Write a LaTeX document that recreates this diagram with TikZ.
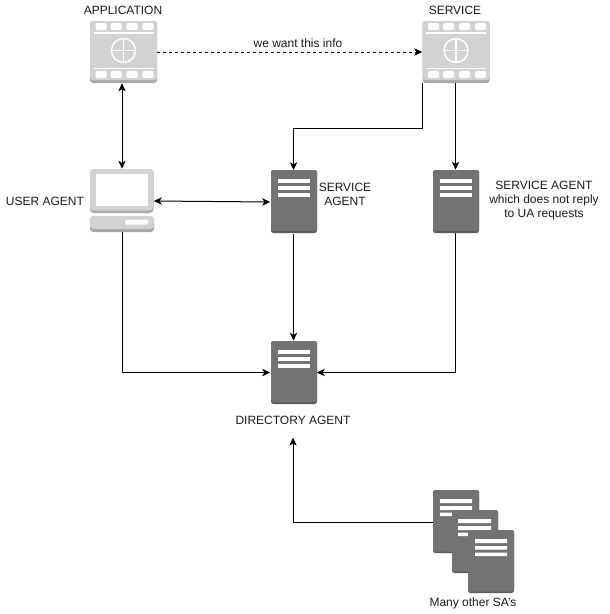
\documentclass[tikz,border=0pt]{standalone}
\usepackage{fontspec}
\setmainfont{Liberation Sans}
\usetikzlibrary{arrows.meta}
\definecolor{lightic}{HTML}{D2D2D2}
\definecolor{lightsh}{HTML}{A8A8A8}
\definecolor{darkic}{HTML}{737373}
\definecolor{darksh}{HTML}{5C5C5C}
\definecolor{txt}{HTML}{1A1A1A}
\tikzset{
  x=0.75pt,y=-0.75pt,
  lab/.style={font=\fontsize{9}{10.5}\selectfont,text=txt,align=center,inner sep=0pt},
  conn/.style={draw=black,line width=0.75pt,-{Stealth[length=6pt,width=5.5pt,inset=1.6pt]}},
  conn2/.style={draw=black,line width=0.75pt,{Stealth[length=6pt,width=5.5pt,inset=1.6pt]}-{Stealth[length=6pt,width=5.5pt,inset=1.6pt]}},
  filmbox/.style={inner sep=0pt,minimum width=50.25pt,minimum height=46.5pt},
  serverbox/.style={inner sep=0pt,minimum width=34.5pt,minimum height=47.25pt},
  lapbox/.style={inner sep=0pt,minimum width=47.25pt,minimum height=47.25pt},
  film/.pic={
    \fill[lightsh,rounded corners=2.2pt] (-33.5,-31) rectangle (33.5,31);
    \fill[lightic,rounded corners=2.2pt] (-33.5,-31) rectangle (33.5,28);
    \foreach \a in {-28,-13,3,19}{
      \fill[white,rounded corners=1pt] (\a,-29) rectangle ++(11,7);
      \fill[white,rounded corners=1pt] (\a,19) rectangle ++(11,7);
    }
    \fill[white] (-30,-20) rectangle (30,-18.5);
    \fill[white] (-30,15.5) rectangle (30,17);
    \draw[white,line width=1.1pt] (0,-1.5) circle (12);
    \draw[white,line width=1.1pt] (-12,-1.5) -- (12,-1.5) (0,-13.5) -- (0,10.5);
  },
  server/.pic={
    \fill[darksh,rounded corners=1.8pt] (-23,-31.5) rectangle (23,31.5);
    \fill[darkic,rounded corners=1.8pt] (-23,-31.5) rectangle (23,29.5);
    \fill[white] (-16,-22.5) rectangle (16,-18.5);
    \fill[white] (-16,-15.5) rectangle (16,-11.5);
    \fill[white] (-16,-8.5) rectangle (16,-4.5);
  },
  laptop/.pic={
    \fill[lightsh,rounded corners=3pt] (-32,-31.5) rectangle (31.5,12.5);
    \fill[lightic,rounded corners=3pt] (-32,-31.5) rectangle (31.5,10);
    \fill[white] (-26.5,-26.5) rectangle (26,5.5);
    \fill[lightsh,rounded corners=2.5pt] (-32,15.5) rectangle (32,31.5);
    \fill[lightic,rounded corners=2.5pt] (-32,15.5) rectangle (32,28.5);
    \fill[white,rounded corners=1pt] (3,19) rectangle (26,24);
  },
  docpic/.pic={
    \fill[darksh,rounded corners=1.8pt] (-23,-31.5) rectangle (23,31.5);
    \fill[darkic,rounded corners=1.8pt] (-23,-31.5) rectangle (23,30);
  }
}
\begin{document}
\begin{tikzpicture}
\useasboundingbox (0,0) rectangle (610,614);
% icons
\node[filmbox] (app) at (123.5,52) {};
\pic at (app.center) {film};
\node[filmbox] (svc) at (456,52) {};
\pic at (svc.center) {film};
\node[lapbox,minimum width=47.25pt] (ua) at (122,200.5) {};
\pic at (ua.center) {laptop};
\node[serverbox] (sa) at (293.5,202) {};
\pic at (294,201.5) {server};
\node[serverbox] (sb) at (455.5,201.5) {};
\pic at (456,201.5) {server};
\node[serverbox] (da) at (293.5,372.5) {};
\pic at (294,372.5) {server};
% stacked agents
\node[serverbox] (d1) at (456,521.5) {};
\pic at (d1.center) {docpic};
\fill[white] (440,499) rectangle (472,503) (440,506) rectangle (472,510) (440,512.5) rectangle (452,516);
\pic at (475,541.5) {docpic};
\fill[white] (458,519) rectangle (491,523) (458,526) rectangle (491,530) (458,532.5) rectangle (468,536);
\pic at (491,561.5) {docpic};
\fill[white] (475,539) rectangle (507,543) (475,546) rectangle (507,549.5) (475,552.5) rectangle (507,556);
% labels
\node[lab] (tapp) at (123,10) {APPLICATION};
\node[lab] (tsvc) at (455,10) {SERVICE};
\node[lab] (tua) at (45,201) {USER AGENT};
\node[lab] (tsa) at (345,194.5) {SERVICE\\AGENT};
\node[lab] (tsb) at (544,201) {SERVICE AGENT\\which does not reply\\to UA requests};
\node[lab] (tinfo) at (298,43) {we want this info};
\node[lab,minimum height=26pt] (tda) at (293,420) {DIRECTORY AGENT};
\node[lab] (tmany) at (473,603) {Many other SA's};
% connectors
\draw[conn2] (app.south -| ua.center) -- (ua.north);
\draw[conn,dashed,dash pattern=on 2.25pt off 2.25pt] (app.east) -- (svc.west);
\draw[conn] (svc.south west) -- ++(0,45) -| (sa.north);
\draw[conn] (svc.south -| sb.center) -- (sb.north);
\draw[conn2] (ua.east) ++(0,0.5) -- (sa.west);
\draw[conn] (ua.south) |- (da.west);
\draw[conn] (sa.south) -- (da.north);
\draw[conn] (sb.south) |- (da.east);
\draw[conn] (d1.west) ++(0,0.5) -| (tda.south);
\end{tikzpicture}
\end{document}
